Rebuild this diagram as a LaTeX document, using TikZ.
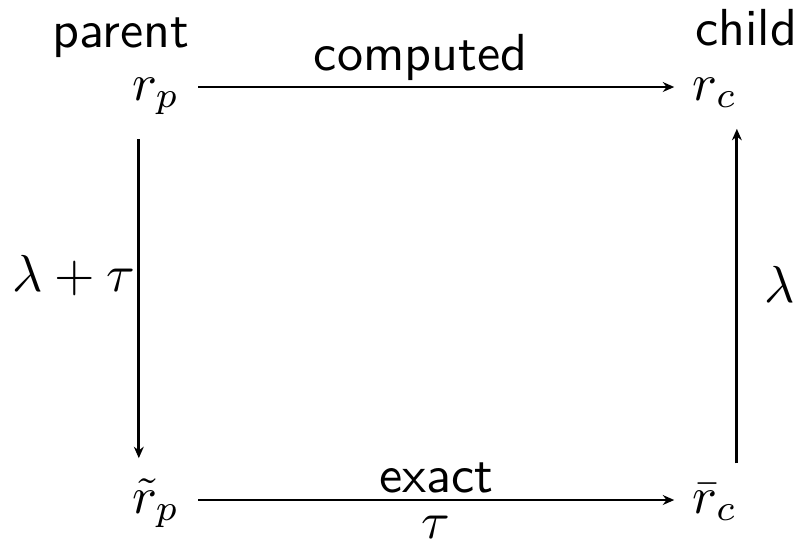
\documentclass[tikz,border=0pt]{standalone}
\usepackage{amsmath}
\usepackage{tikz}
\usetikzlibrary{arrows.meta}

\tikzset{
  vertex/.style={inner sep=3.33pt, text height=6pt, text depth=1pt},
  arr/.style={line width=0.55pt, -{Stealth[length=2.2pt,width=1.9pt]}},
  lbl/.style={font=\sffamily}
}

\begin{document}
\begin{tikzpicture}[x=0.192pt,y=0.192pt,yscale=-1,xscale=1]
\useasboundingbox (0,0) rectangle (800,542);

% corners of the square
\node [vertex] (rp) at (156,87) {$r_p$};
\node [vertex] (rc) at (715,87) {$r_c$};
\node [vertex] (rpt) at (156,500) {$\tilde{r}_p$};
\node [vertex] (rcb) at (715,500) {$\bar{r}_c$};

% Text Node
\node [lbl, anchor=base] (par) at (121,47) {parent};
% Text Node
\node [lbl, anchor=base] (chi) at (746,45) {child};

% top: computed
\draw [arr] (rp) -- node [lbl, above, inner sep=1pt, pos=0.467] (cmp) {computed} (rc);
% bottom: exact / tau
\draw [arr] (rpt) -- node [lbl, above, inner sep=1pt] (exa) {exact}
  node [below, inner sep=2.8pt] (tau) {$\tau$} (rcb);
% left: lambda + tau
\draw [arr, shorten <=3pt, shorten >=1pt] ([xshift=-3.3pt]rp.south) -- node [left, inner sep=0.5pt, pos=0.446] (lt) {$\lambda+\tau$} ([xshift=-3.3pt]rpt.north);
% right: lambda
\draw [arr, shorten >=1pt] ([xshift=4.2pt]rcb.north) -- node [right=5pt, inner sep=0pt, pos=0.527] (lam) {$\lambda$} ([xshift=4.2pt]rc.south);
\end{tikzpicture}
\end{document}
